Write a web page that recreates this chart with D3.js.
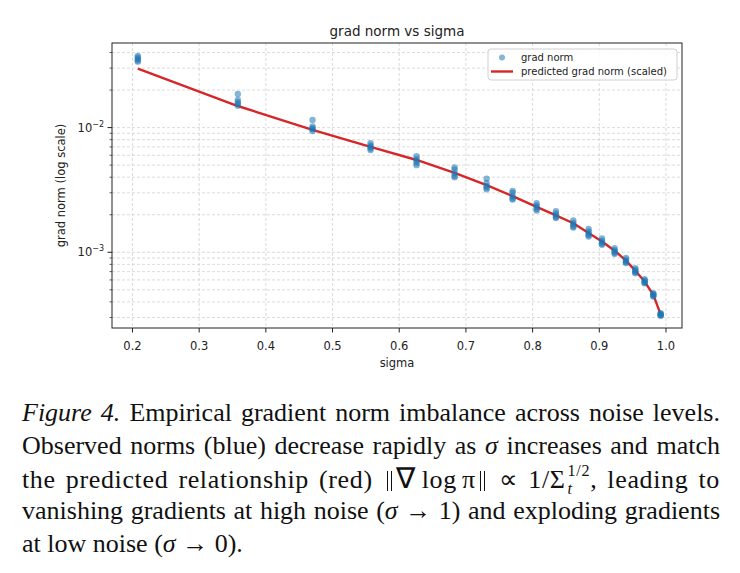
<!DOCTYPE html>
<html>
<head>
<meta charset="utf-8">
<script src="https://cdn.jsdelivr.net/npm/d3@7"></script>
<style>
  html, body { margin: 0; padding: 0; background: #fff; }
  #wrap { position: relative; width: 740px; height: 573px; overflow: hidden; }
  svg { position: absolute; left: 0; top: 0; }
  .cap { position: absolute; left: 22px; width: 698px; font-family: "Liberation Serif", "Times New Roman", serif;
         font-size: 26px; line-height: 33px; white-space: nowrap; color: #111; }
  .just { text-align: justify; text-align-last: justify; }
  .wide { letter-spacing: 0.025em; }
  .nb { display: inline-block; width: 3px; height: 0.8em; border-left: 1px solid #111; border-right: 1px solid #111;
        vertical-align: -0.15em; margin: 0 4px; }
  .nab { font-size: 1.1em; margin-right: 0.22em; }
  .lg { margin-right: 0.2em; }
  .rel { margin: 0 0.38em; }
  .ss { display: inline-block; vertical-align: -0.4em; font-size: 0.62em; line-height: 1.12; text-align: left; margin-left: 2px; }
  .ss span { display: block; }
</style>
</head>
<body>
<div id="wrap"></div>
<script>
// sigma levels (x positions of the dot columns)
const sigmas = [0.208, 0.358, 0.470, 0.557, 0.626, 0.683, 0.731, 0.770, 0.806, 0.835,
                0.861, 0.884, 0.904, 0.923, 0.940, 0.954, 0.968, 0.981, 0.992];

// observed grad norms, several runs per sigma
const gradNorms = [
  [0.0375, 0.0365, 0.0355, 0.0345, 0.0338],
  [0.0186, 0.0167, 0.0160, 0.0155, 0.0150],
  [0.0115, 0.0102, 0.0099, 0.0097, 0.0094],
  [0.0075, 0.0072, 0.0070, 0.0068, 0.0066],
  [0.0059, 0.0056, 0.0054, 0.0052, 0.0050],
  [0.0048, 0.0046, 0.0043, 0.0041, 0.0040],
  [0.0039, 0.0036, 0.0034, 0.0033, 0.0032],
  [0.0031, 0.0030, 0.0028, 0.0027, 0.00265],
  [0.00248, 0.00238, 0.00230, 0.00222, 0.00216],
  [0.00214, 0.00205, 0.00197, 0.00192, 0.00188],
  [0.00180, 0.00172, 0.00166, 0.00161, 0.00158],
  [0.00154, 0.00147, 0.00141, 0.00137, 0.00134],
  [0.00129, 0.00124, 0.00120, 0.00117, 0.00115],
  [0.00108, 0.00104, 0.00101, 0.00099, 0.00097],
  [0.00090, 0.00087, 0.00085, 0.00083, 0.00082],
  [0.000745, 0.000725, 0.000705, 0.00069, 0.00068],
  [0.000608, 0.000595, 0.00058, 0.00057, 0.000565],
  [0.000470, 0.000462, 0.000455, 0.000448, 0.000442],
  [0.000325, 0.00032, 0.000316, 0.000313, 0.00031]
];

// predicted grad norm (scaled), one per sigma
const predicted = [0.0297, 0.0149, 0.0096, 0.0070, 0.0055, 0.00433, 0.00345, 0.00282, 0.00231, 0.00198,
                   0.00171, 0.00143, 0.00122, 0.00103, 0.000858, 0.000712, 0.000582, 0.000455, 0.000318];

const xTicks = [0.2, 0.3, 0.4, 0.5, 0.6, 0.7, 0.8, 0.9, 1.0];
const yMajor = [1e-3, 1e-2];
const yMajorExp = ["\u22123", "\u22122"];
const xDomain = [0.1693, 1.024];
const yDomain = [2.47e-4, 0.0477];

const captionLines = [
  '<i>Figure 4.</i> Empirical gradient norm imbalance across noise levels.',
  'Observed norms (blue) decrease rapidly as <i>\u03c3</i> increases and match',
  'the predicted relationship (red) <span class="nb"></span><span class="nab">\u2207</span><span class="lg">log</span>\u03c0<span class="nb"></span><span class="rel">\u221d</span>1/\u03a3<span class="ss"><span>1/2</span><span><i>t</i></span></span>, leading to',
  'vanishing gradients at high noise (<i>\u03c3</i> \u2192 1) and exploding gradients',
  'at low noise (<i>\u03c3</i> \u2192 0).'
];

const W = 740, H = 573;
const plot = { left: 112, right: 682, top: 43, bottom: 328 };
const font = "'DejaVu Sans', sans-serif";

const wrap = d3.select("#wrap");
const svg = wrap.append("svg").attr("width", W).attr("height", H);

const x = d3.scaleLinear().domain(xDomain).range([plot.left, plot.right]);
const y = d3.scaleLog().domain(yDomain).range([plot.bottom, plot.top]);

// minor log ticks inside the domain
const yMinor = [];
[1e-4, 1e-3, 1e-2].forEach(d => {
  for (let k = 2; k <= 9; k++) {
    const v = k * d;
    if (v > yDomain[0] && v < yDomain[1]) yMinor.push(v);
  }
});

// grid
const grid = svg.append("g").attr("stroke", "#c8c8c8").attr("stroke-width", 0.8)
  .attr("stroke-dasharray", "3,2").attr("opacity", 0.8);
grid.selectAll(".gx").data(xTicks).join("line")
  .attr("x1", d => x(d)).attr("x2", d => x(d))
  .attr("y1", plot.top).attr("y2", plot.bottom);
grid.selectAll(".gy").data(yMajor.concat(yMinor)).join("line")
  .attr("x1", plot.left).attr("x2", plot.right)
  .attr("y1", d => y(d)).attr("y2", d => y(d));

// predicted line
svg.append("path")
  .datum(sigmas.map((s, i) => [s, predicted[i]]))
  .attr("fill", "none").attr("stroke", "#d62728").attr("stroke-width", 2.4)
  .attr("stroke-linejoin", "round")
  .attr("d", d3.line().x(d => x(d[0])).y(d => y(d[1])));

// observed dots
const pts = [];
sigmas.forEach((s, i) => gradNorms[i].forEach(v => pts.push([s, v])));
svg.append("g").selectAll("circle").data(pts).join("circle")
  .attr("cx", d => x(d[0])).attr("cy", d => y(d[1])).attr("r", 3.2)
  .attr("fill", "#1f77b4").attr("fill-opacity", 0.55);

// frame
svg.append("rect").attr("x", plot.left).attr("y", plot.top)
  .attr("width", plot.right - plot.left).attr("height", plot.bottom - plot.top)
  .attr("fill", "none").attr("stroke", "#222").attr("stroke-width", 1);

// x ticks
const xa = svg.append("g").attr("font-family", font).attr("font-size", 11.5).attr("fill", "#222");
xa.selectAll("line").data(xTicks).join("line")
  .attr("x1", d => x(d)).attr("x2", d => x(d))
  .attr("y1", plot.bottom).attr("y2", plot.bottom + 4.5).attr("stroke", "#222");
xa.selectAll("text").data(xTicks).join("text")
  .attr("x", d => x(d)).attr("y", plot.bottom + 22).attr("text-anchor", "middle")
  .text(d => d3.format(".1f")(d));

// y ticks
const ya = svg.append("g").attr("font-family", font).attr("fill", "#222");
ya.selectAll(".maj").data(yMajor).join("line")
  .attr("x1", plot.left - 4.5).attr("x2", plot.left)
  .attr("y1", d => y(d)).attr("y2", d => y(d)).attr("stroke", "#222");
ya.selectAll(".min").data(yMinor).join("line")
  .attr("x1", plot.left - 2.5).attr("x2", plot.left)
  .attr("y1", d => y(d)).attr("y2", d => y(d)).attr("stroke", "#222").attr("stroke-width", 0.7);
const yl = ya.selectAll("text").data(yMajor).join("text")
  .attr("x", plot.left - 8).attr("y", d => y(d) + 4).attr("text-anchor", "end").attr("font-size", 11.5);
yl.append("tspan").text("10");
yl.append("tspan").attr("font-size", 8).attr("dy", -5).text((d, i) => yMajorExp[i]);

// titles
svg.append("text").attr("x", (plot.left + plot.right) / 2).attr("y", 36)
  .attr("text-anchor", "middle").attr("font-family", font).attr("font-size", 13.5).attr("fill", "#222")
  .text("grad norm vs sigma");
svg.append("text").attr("x", (plot.left + plot.right) / 2).attr("y", 367)
  .attr("text-anchor", "middle").attr("font-family", font).attr("font-size", 11.5).attr("fill", "#222")
  .text("sigma");
svg.append("text").attr("transform", `translate(65,${(plot.top + plot.bottom) / 2}) rotate(-90)`)
  .attr("text-anchor", "middle").attr("font-family", font).attr("font-size", 11.5).attr("fill", "#222")
  .text("grad norm (log scale)");

// legend
const lg = svg.append("g").attr("font-family", font).attr("font-size", 10).attr("fill", "#222");
lg.append("rect").attr("x", 488).attr("y", 49).attr("width", 189).attr("height", 31).attr("rx", 3)
  .attr("fill", "#fff").attr("fill-opacity", 0.85).attr("stroke", "#d0d0d0");
lg.append("circle").attr("cx", 502).attr("cy", 57.5).attr("r", 3).attr("fill", "#1f77b4").attr("fill-opacity", 0.55);
lg.append("text").attr("x", 521).attr("y", 61).text("grad norm");
lg.append("line").attr("x1", 491).attr("x2", 513).attr("y1", 71.5).attr("y2", 71.5)
  .attr("stroke", "#d62728").attr("stroke-width", 2.4);
lg.append("text").attr("x", 521).attr("y", 75).text("predicted grad norm (scaled)");

// caption
wrap.selectAll(".cap").data(captionLines).join("div")
  .attr("class", (d, i) => i < captionLines.length - 1 ? (i === 2 ? "cap just wide" : "cap just") : "cap")
  .style("top", (d, i) => (396 + i * 32.8) + "px")
  .html(d => d);
</script>
</body>
</html>
